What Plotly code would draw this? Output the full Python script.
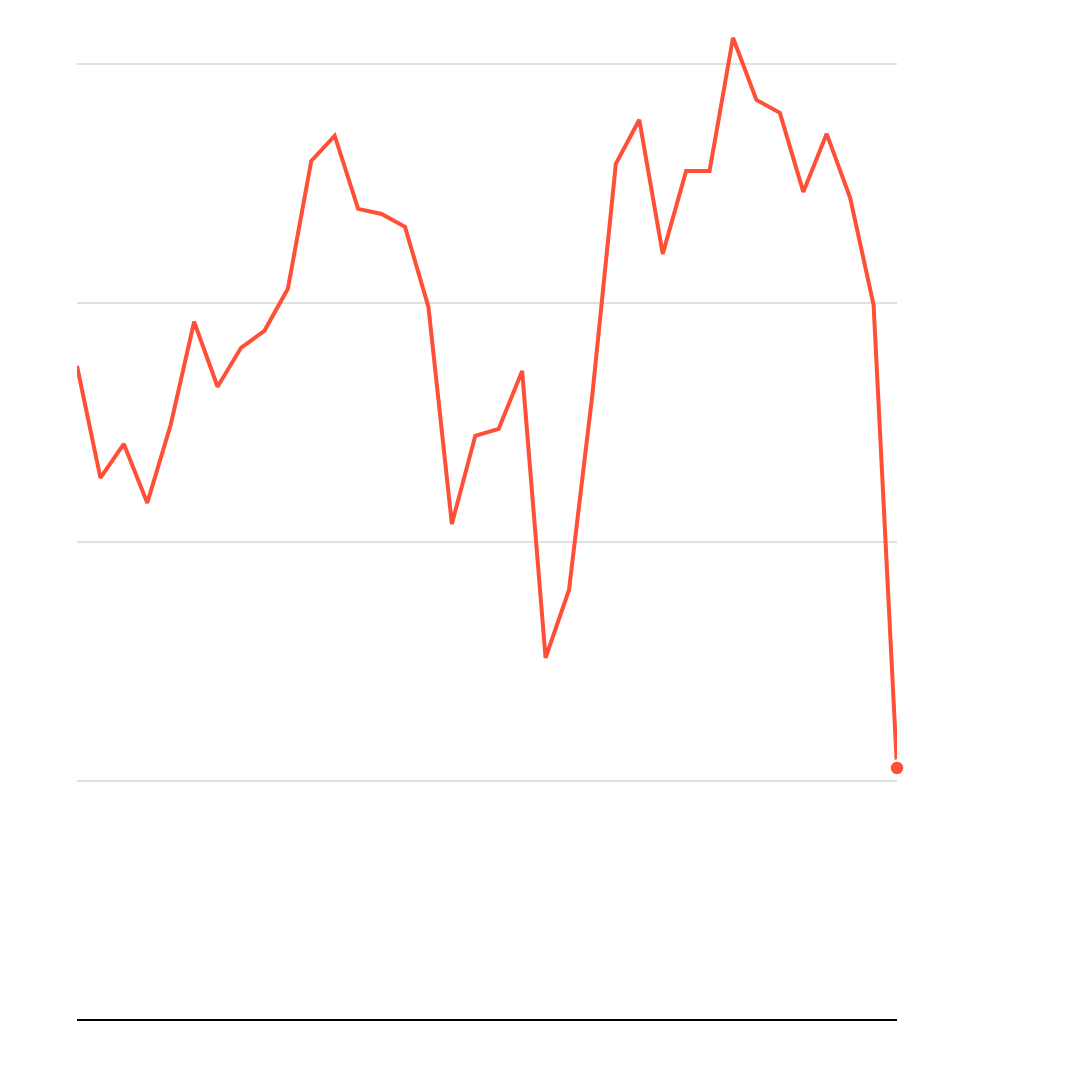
import plotly.graph_objects as go

# values (baseline 0, gridlines every 10)
periods = list(range(36))
values = [27.36, 22.68, 24.10, 21.63, 24.90, 29.21, 26.49, 28.12, 28.83, 30.59,
          35.94, 36.99, 33.93, 33.72, 33.18, 29.83, 20.75, 24.44, 24.73, 27.15,
          15.15, 17.99, 26.19, 35.82, 37.66, 32.05, 35.52, 35.52, 41.09, 38.49,
          37.95, 34.64, 37.07, 34.39, 29.92, 10.54]

line_color = "#ff4f37"

fig = go.Figure()
fig.add_trace(go.Scatter(x=periods, y=values, mode="lines",
                         line=dict(color=line_color, width=4),
                         showlegend=False, hoverinfo="skip"))
fig.add_trace(go.Scatter(x=[periods[-1]], y=[values[-1]], mode="markers",
                         marker=dict(color=line_color, size=15,
                                     line=dict(color="white", width=2.5)),
                         showlegend=False, hoverinfo="skip", cliponaxis=False))

fig.update_layout(
    width=1080, height=1080,
    plot_bgcolor="white", paper_bgcolor="white",
    margin=dict(l=69, r=191, t=8, b=68),
    xaxis=dict(range=[0, 35], showgrid=False, zeroline=False,
               showticklabels=False, ticks="", showline=False),
    yaxis=dict(range=[0, 42], tickvals=[0, 10, 20, 30, 40],
               showticklabels=False, ticks="",
               gridcolor="#e0e0e0", gridwidth=2,
               zeroline=True, zerolinecolor="black", zerolinewidth=2,
               showline=False),
)

fig.write_html("out.html")
